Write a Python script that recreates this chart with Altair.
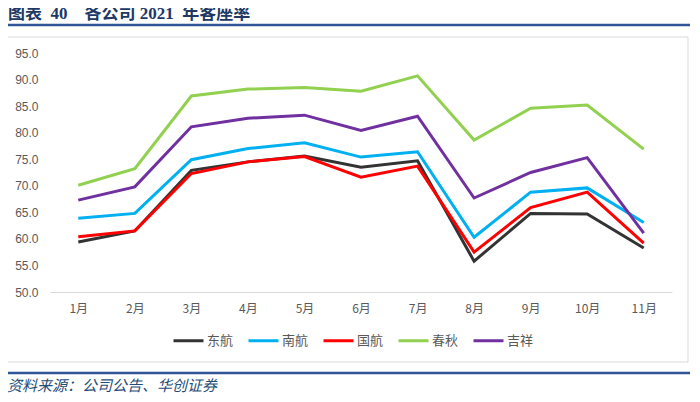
import altair as alt
import pandas as pd

months = ["1月", "2月", "3月", "4月", "5月", "6月", "7月", "8月", "9月", "10月", "11月"]
airlines = ["东航", "南航", "国航", "春秋", "吉祥"]
colors = ["#333333", "#00b0f0", "#ff0000", "#92d050", "#7030a0"]

dongfang = [59.4, 61.5, 72.9, 74.5, 75.6, 73.5, 74.7, 55.8, 64.8, 64.7, 58.3]
nanfang = [63.9, 64.8, 74.9, 77.0, 78.1, 75.4, 76.4, 60.3, 68.8, 69.6, 63.1]
guohang = [60.4, 61.5, 72.3, 74.5, 75.5, 71.6, 73.7, 57.5, 65.9, 68.8, 59.2]
chunqiu = [70.1, 73.2, 86.9, 88.2, 88.5, 87.8, 90.7, 78.6, 84.6, 85.2, 76.9]
jixiang = [67.3, 69.8, 81.1, 82.7, 83.3, 80.4, 83.1, 67.7, 72.5, 75.3, 61.1]

y_ticks = [50, 55, 60, 65, 70, 75, 80, 85, 90, 95]

title_text = "图表\u00a0\u00a040\u00a0\u00a0\u00a0\u00a0各公司\u00a02021\u00a0\u00a0年客座率"
source_text = "资料来源：公司公告、华创证券"

series = [dongfang, nanfang, guohang, chunqiu, jixiang]
rows = []
for name, vals in zip(airlines, series):
    for m, v in zip(months, vals):
        rows.append({"month": m, "airline": name, "value": v})
df = pd.DataFrame(rows)

lines = alt.Chart(df).mark_line(strokeWidth=3).encode(
    x=alt.X("month:N", sort=months, title=None,
            axis=alt.Axis(labelAngle=0, ticks=False, domainColor="#d9d9d9",
                          labelColor="#595959", labelFontSize=12,
                          labelFont="Noto Sans CJK SC", labelPadding=11, grid=False),
            scale=alt.Scale(type="point", padding=0.5)),
    y=alt.Y("value:Q", title=None, scale=alt.Scale(domain=[50, 95], nice=False, zero=False),
            axis=alt.Axis(values=y_ticks, format=".1f", ticks=False, domain=False, grid=False,
                          labelColor="#595959", labelFontSize=12, labelFont="Liberation Sans",
                          labelPadding=12)),
    color=alt.Color("airline:N", sort=airlines,
                    scale=alt.Scale(domain=airlines, range=colors),
                    legend=alt.Legend(title=None, orient="none", direction="horizontal",
                                      legendX=122, legendY=271, symbolType="stroke",
                                      symbolSize=900, symbolStrokeWidth=3,
                                      labelFont="Noto Sans CJK SC", labelFontSize=13,
                                      labelColor="#595959", labelOffset=2,
                                      columnPadding=8)),
    order=alt.Order("airline:N"),
)

one = pd.DataFrame({"t": [title_text]})
src = pd.DataFrame({"t": [source_text]})

title = alt.Chart(one).mark_text(
    align="left", baseline="alphabetic", font="Liberation Serif, Noto Sans CJK SC",
    fontWeight="bold", fontSize=17, color="#203864"
).encode(x=alt.value(-42), y=alt.value(-34), text="t:N")

top_rule = alt.Chart(one).mark_rule(color="#2e5597", strokeWidth=2.5).encode(
    x=alt.value(-45), x2=alt.value(640), y=alt.value(-28))

frame = alt.Chart(one).mark_rect(fillOpacity=0, stroke="#d9d9d9", strokeWidth=1).encode(
    x=alt.value(-45), x2=alt.value(638), y=alt.value(-16), y2=alt.value(309))

bottom_rule = alt.Chart(one).mark_rule(color="#2e5597", strokeWidth=2.5).encode(
    x=alt.value(-45), x2=alt.value(640), y=alt.value(320))

source = alt.Chart(src).mark_text(
    align="left", baseline="alphabetic", font="Noto Sans CJK SC", fontStyle="italic",
    fontSize=15, color="#1f4e79"
).encode(x=alt.value(-43), y=alt.value(338), text="t:N")

chart = alt.layer(frame, lines, title, top_rule, bottom_rule, source).properties(
    width=622, height=239,
    autosize=alt.AutoSizeParams(type="none"),
    padding={"left": 42, "top": 45, "right": 20, "bottom": 102},
).configure_view(stroke=None)

chart.save("out.html", embed_options={"renderer": "svg", "actions": False})
